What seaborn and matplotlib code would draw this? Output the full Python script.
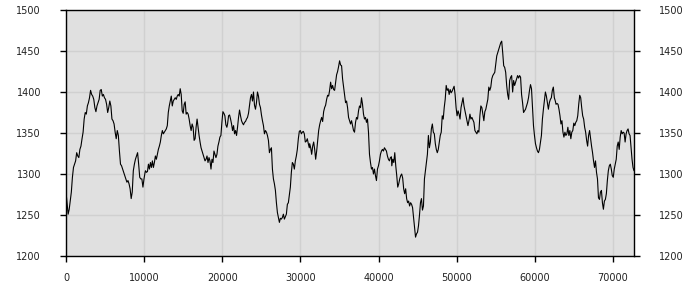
import numpy as np
import pandas as pd
import matplotlib
matplotlib.use("Agg")
import matplotlib.pyplot as plt
import seaborn as sns

# x-range (sample index) covered by each traced segment
seg_bounds = [(0, 10120), (10170, 20590), (20680, 31140), (31190, 41650),
              (41700, 52080), (52210, 62630), (62720, 72700)]

seg1 = [1278,1265,1251,1257,1267,1278,1296,1308,1312,1316,1326,1322,1320,1330,1334,1343,1351,1367,1375,1373,
        1383,1387,1393,1402,1397,1395,1391,1381,1376,1383,1387,1391,1402,1403,1395,1397,1393,1391,1385,1375,
        1381,1389,1383,1367,1365,1361,1351,1343,1353,1347,1328,1312,1310,1306,1302,1298,1294,1290,1292,1288,
        1282,1270,1278,1304,1312,1318,1322,1326,1312,1296,1294,1294,1284,1294,1302]
seg2 = [1304,1302,1303,1312,1306,1314,1308,1316,1308,1314,1322,1318,1324,1330,1334,1339,1347,1353,1349,1351,
        1353,1355,1359,1375,1383,1389,1395,1383,1389,1391,1393,1391,1395,1397,1395,1404,1397,1377,1374,1385,
        1388,1373,1375,1373,1367,1359,1353,1361,1357,1341,1343,1357,1367,1357,1347,1339,1332,1328,1324,1320,
        1316,1318,1322,1314,1320,1316,1306,1318,1314,1328,1324,1320,1324,1334,1339,1345,1347,1363,1376,1374,
        1371,1360,1357]
seg3 = [1361,1371,1372,1367,1361,1353,1359,1349,1353,1347,1357,1369,1378,1371,1365,1362,1360,1363,1364,1367,
        1369,1374,1383,1393,1397,1389,1400,1384,1379,1387,1400,1395,1385,1381,1372,1365,1359,1349,1353,1351,
        1347,1341,1326,1330,1332,1306,1294,1288,1280,1265,1253,1247,1241,1246,1245,1247,1251,1245,1248,1251,
        1263,1265,1274,1284,1302,1314,1312,1306,1316,1322,1330,1343,1352,1353,1349,1351,1352,1349,1339,1340,
        1343,1337,1332]
seg4 = [1337,1332,1324,1334,1339,1330,1318,1328,1341,1353,1360,1365,1369,1364,1376,1381,1384,1391,1396,1395,
        1402,1412,1404,1408,1403,1402,1412,1421,1425,1431,1438,1433,1432,1416,1406,1395,1387,1389,1381,1369,
        1365,1361,1365,1359,1353,1351,1363,1369,1367,1377,1383,1381,1393,1385,1373,1367,1369,1363,1367,1351,
        1324,1314,1306,1308,1300,1306,1298,1292,1306,1310,1316,1324,1328,1330,1328,1332,1330,1328,1322,1318,
        1316,1320,1321]
seg5 = [1310,1318,1314,1326,1310,1298,1284,1288,1294,1298,1300,1295,1282,1276,1282,1270,1265,1267,1261,1265,
        1263,1259,1247,1235,1223,1227,1229,1237,1250,1265,1270,1256,1261,1294,1304,1314,1324,1347,1332,1339,
        1355,1361,1351,1349,1337,1330,1326,1330,1339,1347,1351,1371,1367,1381,1391,1408,1402,1404,1397,1403,
        1399,1401,1404,1407,1397,1381,1371,1377,1373,1367,1381,1387,1393,1383,1377,1371,1365,1359,1365,1373,
        1367,1369,1366]
seg6 = [1363,1353,1351,1349,1353,1351,1371,1383,1381,1373,1365,1376,1379,1385,1391,1406,1402,1406,1416,1420,
        1422,1424,1434,1444,1448,1452,1456,1460,1462,1448,1432,1430,1424,1408,1397,1391,1414,1418,1420,1400,
        1414,1408,1412,1416,1420,1417,1420,1418,1397,1387,1375,1377,1379,1383,1387,1393,1402,1409,1404,1381,
        1359,1347,1337,1332,1328,1326,1330,1339,1347,1367,1379,1389,1400,1395,1387,1379,1387,1391,1393,1402,
        1406,1393,1389]
seg7 = [1385,1386,1385,1379,1371,1361,1365,1351,1345,1351,1347,1349,1357,1347,1353,1343,1351,1353,1362,1359,
        1363,1365,1371,1385,1396,1393,1381,1371,1367,1357,1351,1341,1334,1347,1353,1343,1334,1326,1316,1308,
        1316,1302,1294,1271,1269,1278,1280,1265,1257,1267,1269,1276,1292,1304,1310,1312,1306,1298,1296,1306,
        1312,1318,1334,1339,1330,1345,1353,1349,1351,1350,1339,1349,1353,1355,1349,1347,1332,1318,1308,1304]

segments = [seg1, seg2, seg3, seg4, seg5, seg6, seg7]

x_ticks = [0, 10000, 20000, 30000, 40000, 50000, 60000, 70000]
y_ticks = [1200, 1250, 1300, 1350, 1400, 1450, 1500]

xs, ys = [], []
for (a, b), vals in zip(seg_bounds, segments):
    xs.extend(np.linspace(a, b, len(vals)))
    ys.extend(vals)
df = pd.DataFrame({"x": xs, "value": ys})

sns.set_theme(style="whitegrid", rc={
    "axes.facecolor": "#e0e0e0",
    "grid.color": "#d0d0d0",
    "grid.linewidth": 1.0,
    "axes.edgecolor": "black",
    "axes.linewidth": 1.0,
})
plt.rcParams["font.family"] = ["DejaVu Sans"]

fig = plt.figure(figsize=(7, 3), dpi=100)
ax = fig.add_axes([66 / 700, 1 - 256 / 300, (634 - 66) / 700, (256 - 10) / 300])

sns.lineplot(data=df, x="x", y="value", color="black", linewidth=0.8,
             estimator=None, sort=False, ax=ax)

ax.set_xlim(0, 72700)
ax.set_ylim(1200, 1500)
ax.set_xticks(x_ticks)
ax.set_yticks(y_ticks)
ax.set_xticklabels([str(t) for t in x_ticks])
ax.set_yticklabels([str(t) for t in y_ticks])
ax.set_xlabel("")
ax.set_ylabel("")
for s in ax.spines.values():
    s.set_visible(True)
    s.set_color("black")
    s.set_linewidth(1.0)
ax.tick_params(axis="both", which="both", direction="out", length=4, width=1,
               color="black", labelsize=7, labelcolor="#222222")
ax.tick_params(axis="y", left=True, right=True, labelleft=True, labelright=True)
ax.tick_params(axis="y", which="both", pad=14)
ax.tick_params(axis="x", bottom=True, pad=8)
ax.grid(True, color="#d0d0d0", linewidth=1.0)
ax.set_axisbelow(True)

fig.savefig("out.png", dpi=100, facecolor="white")
